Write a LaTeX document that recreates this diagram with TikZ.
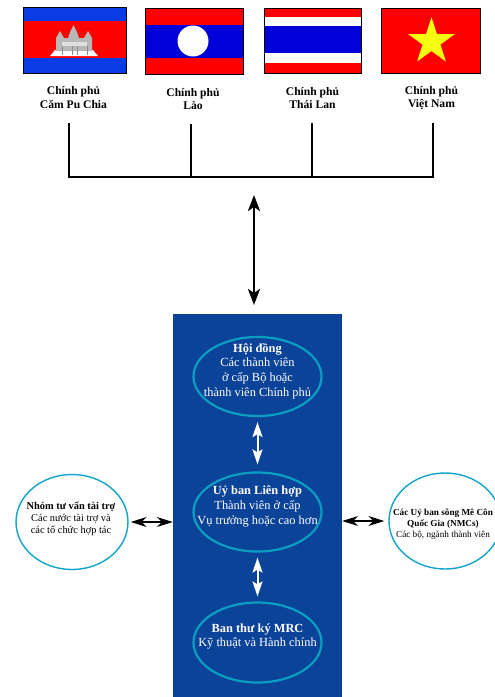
\documentclass[tikz,border=0pt]{standalone}
\usepackage{fontspec}
\setmainfont{Liberation Serif}
\usetikzlibrary{shapes.geometric,arrows.meta}
\definecolor{panelblue}{HTML}{0B4399}
\definecolor{ringblue}{HTML}{0A9FC2}
\definecolor{ringlight}{HTML}{12A4CC}
\definecolor{flagred}{HTML}{FF0000}
\definecolor{flagblue}{HTML}{0A3CE6}
\definecolor{laosblue}{HTML}{0000D8}
\definecolor{flagyellow}{HTML}{F5FF10}
\tikzset{
  flagframe/.style={draw=black,line width=0.8pt,fill=none},
  govtext/.style={font=\fontsize{11.6}{13.4}\selectfont\bfseries,align=center,text=black,inner sep=0pt},
  innerring/.style={ellipse,draw=ringblue,line width=2.2pt,minimum width=128pt,minimum height=79pt,inner sep=0pt},
  outerring/.style={ellipse,draw=ringlight,line width=1.4pt,fill=white,inner sep=0pt},
  whitetext/.style={font=\fontsize{12.4}{14.6}\selectfont,align=center,text=white,inner sep=0pt},
  donorfont/.style={font=\fontsize{10.4}{12.2}\selectfont,align=center,text=black,inner sep=0pt},
  nmcfont/.style={font=\fontsize{9.2}{10.8}\selectfont,align=center,text=black,inner sep=0pt},
  busline/.style={draw=black,line width=1.6pt},
  blackarrow/.style={draw=black,line width=1.2pt,{Stealth[length=16pt,width=10pt,inset=5pt]}-{Stealth[length=16pt,width=10pt,inset=5pt]}},
  bigarrow/.style={draw=black,line width=2.6pt,{Stealth[length=16pt,width=12pt,inset=4pt]}-{Stealth[length=16pt,width=12pt,inset=4pt]}},
  whitearrow/.style={draw=white,line width=2pt,xshift=1.5pt,{Stealth[length=15pt,width=10pt,inset=3pt]}-{Stealth[length=15pt,width=10pt,inset=3pt]}}
}
\begin{document}
\begin{tikzpicture}[x=1pt,y=-1pt]
\useasboundingbox (0,0) rectangle (495,697);
\clip (0,0) rectangle (495,697);
% Cambodia
\fill[flagblue] (23,7) rectangle (126,73);
\fill[flagred] (23,21) rectangle (126,58);
\fill[white] (50,56) -- (55,50) -- (93,50) -- (98,56) -- cycle;
\fill[black!28] (56,51) -- (56,38) -- (60,31) -- (64,38) -- (68,38) -- (70,32) -- (73.5,25) -- (77,32) -- (79,38) -- (84,38) -- (88,31) -- (92,38) -- (92,51) -- cycle;
\fill[black!12] (62,42) rectangle (87,46);
\draw[black!45,line width=0.5pt] (62,46) -- (62,55) (72,46) -- (72,55) (77,46) -- (77,55) (87,46) -- (87,55);
\draw[flagframe] (23,7) rectangle (126,73);
% Laos
\fill[flagred] (145,8) rectangle (243,74);
\fill[laosblue] (145,25) rectangle (243,58);
\fill[white] (193,41) circle (15.5);
\draw[flagframe] (145,8) rectangle (243,74);
% Thailand
\fill[flagred] (264,8) rectangle (361,73);
\fill[white] (264,17) rectangle (361,63);
\fill[laosblue] (264,26) rectangle (361,53);
\draw[flagframe] (264,8) rectangle (361,73);
% Vietnam
\fill[flagred] (381,8) rectangle (480,73);
\node[star,star points=5,star point ratio=2.618,fill=flagyellow,minimum size=49pt,inner sep=0pt] (vnstar) at (431.5,41.7) {};
\draw[flagframe] (381,8) rectangle (480,73);
% Government labels
\node[govtext] (govkh) at (73.5,97.5) {Chính phủ\\Căm Pu Chia};
\node[govtext] (govla) at (193,99) {Chính phủ\\Lào};
\node[govtext] (govth) at (312.5,98) {Chính phủ\\Thái Lan};
\node[govtext] (govvn) at (431.5,98) {Chính phủ\\Việt Nam};
% Bus
\coordinate (tkh) at (69,123);
\coordinate (tla) at (191,124);
\coordinate (tth) at (312,123);
\coordinate (tvn) at (433,123);
\coordinate (bkh) at (69,177);
\coordinate (bla) at (191,177);
\coordinate (bth) at (312,177);
\coordinate (bvn) at (433,177);
\draw[busline,line join=miter] (tkh) -- (bkh) -- (bvn) -- (tvn);
\draw[busline] (tla) -- (bla);
\draw[busline] (tth) -- (bth);
% Panel
\node[fill=panelblue,draw=none,minimum width=169pt,minimum height=383pt,inner sep=0pt] (panel) at (257.5,505.5) {};
\node[innerring] (council) at (257.5,376.5) {};
\node[innerring] (joint) at (257.5,512) {};
\node[innerring,minimum height=80pt] (secretariat) at (257.5,642.5) {};
\node[whitetext] (counciltext) at (257.5,371) {\textbf{Hội đồng}\\Các thành viên\\ở cấp Bộ hoặc\\thành viên Chính phủ};
\node[whitetext] (jointtext) at (257.5,506.5) {\textbf{Uỷ ban Liên hợp}\\Thành viên ở cấp\\Vụ trưởng hoặc cao hơn};
\node[whitetext] (secretariattext) at (257.5,636.5) {\textbf{Ban thư ký MRC}\\Kỹ thuật và Hành chính};
% Side ellipses
\node[outerring,minimum width=112pt,minimum height=95pt] (donor) at (72,522) {};
\node[donorfont] (donortext) at (71,519) {\textbf{Nhóm tư vấn tài trợ}\\Các nước tài trợ và\\các tổ chức hợp tác};
\node[outerring,minimum width=112pt,minimum height=96pt] (nmc) at (445,521) {};
\node[nmcfont] (nmctext) at (443,524) {\textbf{Các Uỷ ban sông Mê Côn}\\\textbf{Quốc Gia (NMCs)}\\Các bộ, ngành thành viên};
% Arrows
\coordinate (busmid) at (254,177);
\coordinate (paneltop) at (254,314);
\draw[bigarrow,shorten <=18pt,shorten >=9pt] (busmid) -- (paneltop);
\draw[whitearrow,shorten <=5pt,shorten >=7pt] (council.south) -- (joint.north);
\draw[whitearrow,shorten <=5pt,shorten >=5pt] (joint.south) -- (secretariat.north);
\draw[blackarrow,shorten <=2pt] (donor.east) -- (donor.east -| panel.west);
\draw[blackarrow,shorten >=4pt] (nmc.west -| panel.east) -- (nmc.west);
\end{tikzpicture}
\end{document}
